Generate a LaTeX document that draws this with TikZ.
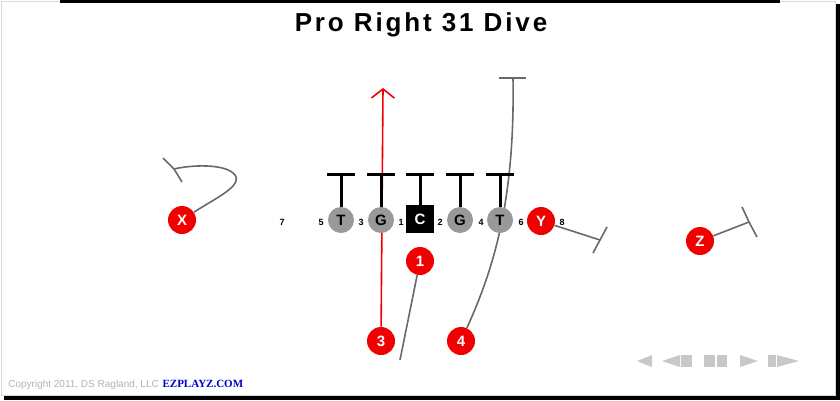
\documentclass[tikz,border=0pt]{standalone}
\usepackage{fontspec}
\setmainfont{Liberation Sans}
\newfontfamily\ezserif{Liberation Serif}
\usetikzlibrary{arrows.meta,backgrounds}

\definecolor{playred}{RGB}{240,0,0}
\definecolor{linegray}{RGB}{153,153,153}
\definecolor{routegray}{RGB}{105,105,105}
\definecolor{ctrlgray}{RGB}{200,200,200}
\definecolor{ezblue}{RGB}{0,0,204}

\tikzset{every picture/.style={line width=0.75pt}}
\tikzset{
    player/.style={circle, fill=playred, text=white, minimum size=28pt, inner sep=0pt, font=\bfseries\fontsize{15}{15}\selectfont},
    lineman/.style={circle, fill=linegray, text=black, minimum size=26pt, inner sep=0pt, font=\bfseries\fontsize{15}{15}\selectfont},
    snapper/.style={rectangle, fill=black, text=white, minimum size=28pt, inner sep=0pt, font=\bfseries\fontsize{15}{15}\selectfont},
    hole/.style={inner sep=0pt, font=\bfseries\fontsize{9}{9}\selectfont},
    block/.style={line width=3pt, black},
    route/.style={line width=1.6pt, routegray},
    runpath/.style={line width=1.6pt, playred},
    ctrl/.style={fill=ctrlgray, draw=none},
}

\begin{document}
\begin{tikzpicture}[x=1pt,y=1pt,yscale=-1]
    \useasboundingbox (0,0) rectangle (840,400);

    % frame
    \draw [black!15, line width=0.6pt] (1,1) rectangle (835,395);
    \fill [black] (60,0) rectangle (780,2.5);
    \fill [black] (836,4) rectangle (840,400);
    \fill [black] (4,396) rectangle (840,400);

    % Text Node
    \node (title) [anchor=base, inner sep=0pt, font=\bfseries\fontsize{26}{26}\selectfont\addfontfeature{LetterSpace=11}] at (421,31) {Pro Right 31 Dive};

    %Line: Connector
    \node (lt) [lineman] at (341,220) {T};
    \node (lg) [lineman] at (381,220) {G};
    \node (c) [snapper] at (420,219) {C};
    \node (rg) [lineman] at (460,220) {G};
    \node (rt) [lineman] at (500,220) {T};
    \node (y) [player] at (541,221) {Y};
    \node (x) [player] at (182,220) {X};
    \node (z) [player] at (700,241) {Z};
    \node (one) [player] at (420,261) {1};
    \node (three) [player] at (381,341) {3};
    \node (four) [player] at (461,341) {4};

    % holes
    \node (h7) [hole] at (282,222) {7};
    \node (h5) [hole] at (321,222) {5};
    \node (h3) [hole] at (361,222) {3};
    \node (h1) [hole] at (401,222) {1};
    \node (h2) [hole] at (440,222) {2};
    \node (h4) [hole] at (481,222) {4};
    \node (h6) [hole] at (521,222) {6};
    \node (h8) [hole] at (562,222) {8};

    % route ends
    \coordinate (bar) at (0,174);
    \coordinate (hit) at (383,88);
    \coordinate (oneend) at (400,360);
    \coordinate (fourend) at (513,78);
    \coordinate (xend) at (174,169);
    \coordinate (yend) at (600,240);
    \coordinate (zend) at (749,222);

    \begin{scope}[on background layer]
    % run: 3 dive
    \draw [runpath, -{Straight Barb[length=9pt,width=23pt,line width=1.6pt]}] (three) -- (hit);
    % fake 1
    \draw [route] (one) -- (oneend);
    % 4 release
    \draw [route] (four) .. controls (494,268) and (515,200) .. (fourend);
    \draw [route] ([xshift=-14pt]fourend) -- ([xshift=13pt]fourend);
    % X
    \draw [route] (x) .. controls (214,199) and (243,186) .. (235,175) .. controls (226,163) and (190,165) .. (xend);
    \draw [route] (163,158) -- (xend) -- (182,182);
    % Y
    \draw [route] (y) -- (yend);
    \draw [route] (607,227) -- (yend) -- (593,253);
    % Z
    \draw [route] (z) -- (zend);
    \draw [route] (742,207) -- (zend) -- (757,237);
    \end{scope}

    % blocks
    \foreach \n in {lt,lg,c,rg,rt} {
        \draw [block] (\n.north) -- (\n |- bar);
        \draw [block] ([xshift=-14pt]\n |- bar) -- ([xshift=14pt]\n |- bar);
    }

    % player controls
    \fill [ctrl] (637,361) -- (652,355) -- (652,367) -- cycle;
    \fill [ctrl] (662,361) -- (680,355) -- (680,367) -- cycle;
    \fill [ctrl] (681,355) rectangle (692,367);
    \fill [ctrl] (704,355) rectangle (715,367);
    \fill [ctrl] (717,355) rectangle (727,367);
    \fill [ctrl] (740,355) -- (758,361) -- (740,367) -- cycle;
    \fill [ctrl] (768,355) rectangle (776,367);
    \fill [ctrl] (777,355) -- (799,361) -- (777,367) -- cycle;

    % Text Node
    \node (copy) [anchor=base west, inner sep=0pt, text=black!30, font=\fontsize{10}{10}\selectfont] at (8,387) {Copyright 2011, DS Ragland, LLC};
    \node (ez) [anchor=base west, inner sep=0pt, text=ezblue, font=\ezserif\bfseries\fontsize{11}{11}\selectfont] at ([xshift=3pt]copy.base east) {EZPLAYZ.COM};
\end{tikzpicture}
\end{document}
